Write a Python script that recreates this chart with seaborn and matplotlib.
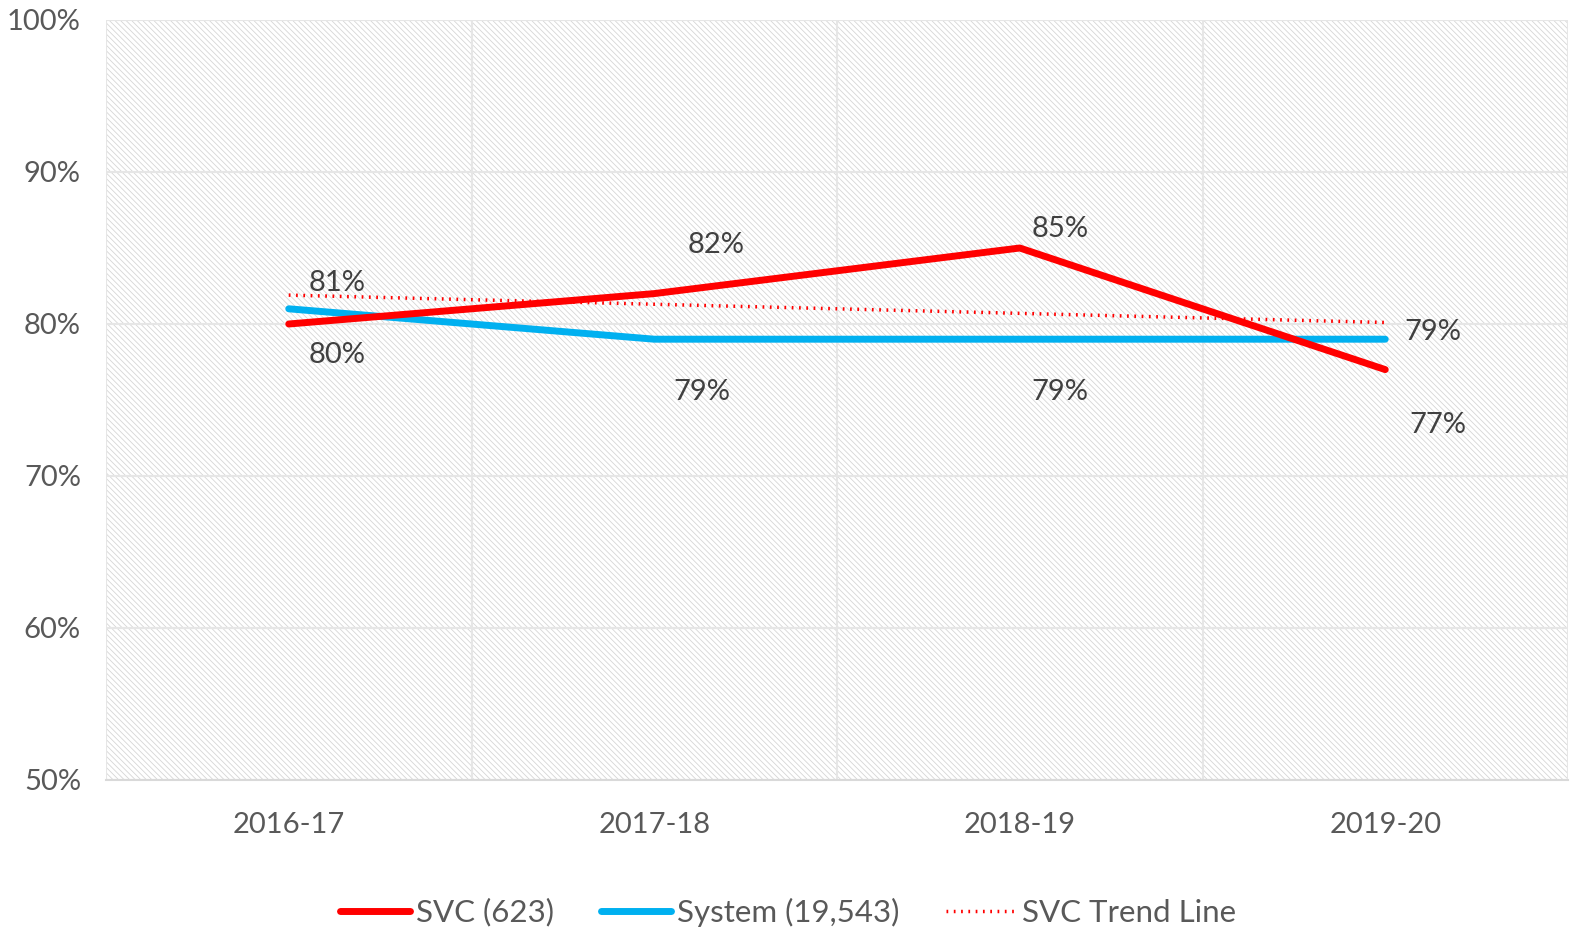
import matplotlib
matplotlib.use("Agg")
import matplotlib.pyplot as plt
import seaborn as sns
import pandas as pd
from matplotlib.patches import Rectangle
from matplotlib.lines import Line2D

years = ["2016-17", "2017-18", "2018-19", "2019-20"]
svc = [80, 82, 85, 77]
system = [81, 79, 79, 79]
svc_trend = [81.9, 81.3, 80.7, 80.1]
y_ticks = [50, 60, 70, 80, 90, 100]
legend_labels = ["SVC (623)", "System (19,543)", "SVC Trend Line"]

sns.set_theme(style="white")
plt.rcParams['font.family'] = ['Lato', 'DejaVu Sans']
plt.rcParams['hatch.linewidth'] = 0.6
TXT = '#595959'
LBL = '#404040'

df = pd.DataFrame({"x": range(len(years)), "svc": svc, "system": system, "trend": svc_trend})

fig = plt.figure(figsize=(15.76, 9.36), dpi=100)
ax = fig.add_axes([106/1576, 1-780/936, (1568-106)/1576, (780-20)/936])

ax.add_patch(Rectangle((0, 0), 1, 1, transform=ax.transAxes, facecolor='white',
                       edgecolor='#d6d6d6', hatch='\\\\\\\\\\\\', lw=0, zorder=0))

sns.lineplot(data=df, x="x", y="svc", ax=ax, color='#ff0000', lw=5, zorder=4)
sns.lineplot(data=df, x="x", y="system", ax=ax, color='#00b0f0', lw=5, zorder=3)
sns.lineplot(data=df, x="x", y="trend", ax=ax, color='#ff0000', lw=2.5, ls=(0, (0.5, 1.6)), zorder=5)

ax.set_xlim(-0.5, 3.5)
ax.set_ylim(50, 100)
ax.set_yticks(y_ticks)
ax.set_yticklabels([f"{v}%" for v in y_ticks])
ax.set_xticks(range(len(years)))
ax.set_xticklabels(years)
ax.set_xticks([-0.5, 0.5, 1.5, 2.5, 3.5] + [0, 1, 2, 3], minor=True)
ax.grid(True, which='minor', axis='x', color='#e6e6e6', lw=1.5, zorder=1)
ax.grid(True, which='major', axis='y', color='#e6e6e6', lw=1.5, zorder=1)
ax.set_axisbelow(True)
ax.tick_params(axis='both', which='both', length=0, labelsize=21, colors=TXT)
ax.tick_params(axis='x', pad=23)
ax.tick_params(axis='y', pad=18)
ax.set_xlabel("")
ax.set_ylabel("")
for s in ['top', 'right', 'left']:
    ax.spines[s].set_visible(False)
ax.spines['bottom'].set_color('#d9d9d9')
ax.spines['bottom'].set_linewidth(1.5)

# data labels (offsets in pixels)
svc_off = [(48, -31), (62, 49), (40, 19), (53, -55)]
sys_off = [(48, 26), (48, -53), (40, -53), (48, 7)]
for i in range(4):
    ax.annotate(f"{svc[i]}%", (i, svc[i]), xytext=svc_off[i], textcoords='offset pixels',
                ha='center', va='center', fontsize=21, color=LBL, zorder=6)
    ax.annotate(f"{system[i]}%", (i, system[i]), xytext=sys_off[i], textcoords='offset pixels',
                ha='center', va='center', fontsize=21, color=LBL, zorder=6)

handles = [Line2D([], [], color='#ff0000', lw=5),
           Line2D([], [], color='#00b0f0', lw=5),
           Line2D([], [], color='#ff0000', lw=2.5, ls=(0, (0.5, 1.6)))]
fig.legend(handles, legend_labels, loc='center', bbox_to_anchor=(0.5, 1-912/936), ncol=3,
           frameon=False, fontsize=22.5, labelcolor=TXT, handlelength=2.24, handletextpad=0.2,
           columnspacing=1.5)

fig.savefig("out.png", dpi=100)
